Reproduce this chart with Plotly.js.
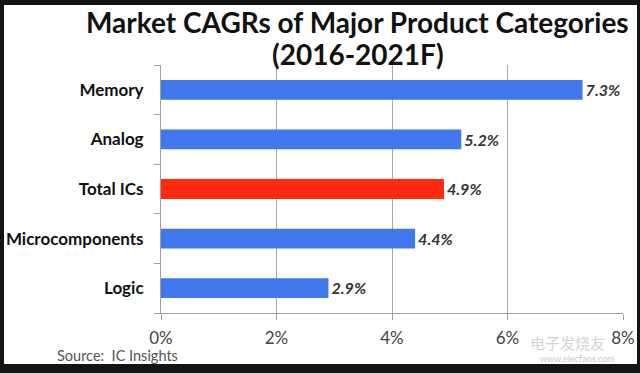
<!DOCTYPE html>
<html>
<head>
<meta charset="utf-8">
<script src="https://cdn.plot.ly/plotly-3.0.1.min.js"></script>
<style>
  html, body { margin: 0; padding: 0; background: #141414; width: 640px; height: 373px; overflow: hidden; }
  #chart { position: absolute; left: 4px; top: 5px; width: 633px; height: 359px; background: #fff; }
</style>
</head>
<body>
<div id="chart"></div>
<script>
// Data
const categories = ["Memory", "Analog", "Total ICs", "Microcomponents", "Logic"];
const cagrValues = [7.3, 5.2, 4.9, 4.4, 2.9];
const barColors = ["#4178EC", "#4178EC", "#FF2A10", "#4178EC", "#4178EC"];
const xTickVals = [0, 2, 4, 6, 8];
const xTickText = ["0%", "2%", "4%", "6%", "8%"];
const titleLines = ["Market CAGRs of Major Product Categories", "(2016-2021F)"];
const sourceText = "Source:  IC Insights";
const watermarkCN = "电子发烧友";
const watermarkURL = "www.elecfans.com";

const FONT = "Lato, 'Open Sans', 'DejaVu Sans', sans-serif";

const trace = {
  type: "bar",
  orientation: "h",
  y: categories,
  x: cagrValues,
  width: 0.4,
  marker: { color: barColors, line: { width: 0 } },
  text: cagrValues.map(v => "<b><i>" + v.toFixed(1) + "%</i></b>"),
  textposition: "outside",
  textfont: { family: FONT, size: 17, color: "#333" },
  cliponaxis: false,
  hoverinfo: "none"
};

const layout = {
  width: 633,
  height: 359,
  margin: { l: 157, r: 14, t: 60, b: 51 },
  paper_bgcolor: "#ffffff",
  plot_bgcolor: "#ffffff",
  showlegend: false,
  xaxis: {
    range: [0, 8],
    tickvals: xTickVals,
    ticktext: xTickText,
    showgrid: true,
    gridcolor: "#a8a8a8",
    gridwidth: 1,
    zeroline: false,
    showline: true,
    linecolor: "#a0a0a0",
    linewidth: 1,
    ticks: "outside",
    ticklen: 6,
    tickcolor: "#a0a0a0",
    ticklabelstandoff: 4,
    tickfont: { family: FONT, size: 17, color: "#444" },
    fixedrange: true
  },
  yaxis: {
    categoryorder: "array",
    categoryarray: categories.slice().reverse(),
    autorange: false,
    range: [-0.5, categories.length - 0.5],
    showline: true,
    linecolor: "#a0a0a0",
    linewidth: 1,
    ticks: "outside",
    tickson: "boundaries",
    ticklen: 6,
    tickcolor: "#a0a0a0",
    ticklabelstandoff: 13,
    showgrid: false,
    tickfont: { family: FONT, size: 17, color: "#111", weight: "bold" },
    fixedrange: true
  },
  annotations: [
    {
      text: "<b>" + titleLines[0] + "</b>", xref: "paper", yref: "paper",
      x: 0.426, y: 1.175, xanchor: "center", yanchor: "middle",
      showarrow: false, font: { family: FONT, size: 28, color: "#111" }
    },
    {
      text: "<b>" + titleLines[1] + "</b>", xref: "paper", yref: "paper",
      x: 0.426, y: 1.046, xanchor: "center", yanchor: "middle",
      showarrow: false, font: { family: FONT, size: 28, color: "#111" }
    },
    {
      text: sourceText, xref: "paper", yref: "paper",
      x: -0.23, y: -0.172, xanchor: "left", yanchor: "middle",
      showarrow: false, font: { family: FONT, size: 14.5, color: "#555" }
    },
    {
      text: watermarkCN, xref: "paper", yref: "paper",
      x: 0.88, y: -0.12, xanchor: "center", yanchor: "middle",
      showarrow: false, font: { family: "'Noto Sans CJK SC', sans-serif", size: 15, color: "#d4d4d4" }
    },
    {
      text: watermarkURL, xref: "paper", yref: "paper",
      x: 0.90, y: -0.183, xanchor: "center", yanchor: "middle",
      showarrow: false, font: { family: FONT, size: 9, color: "#cccccc" }
    }
  ]
};

Plotly.newPlot("chart", [trace], layout, { displayModeBar: false, staticPlot: true });
</script>
</body>
</html>
